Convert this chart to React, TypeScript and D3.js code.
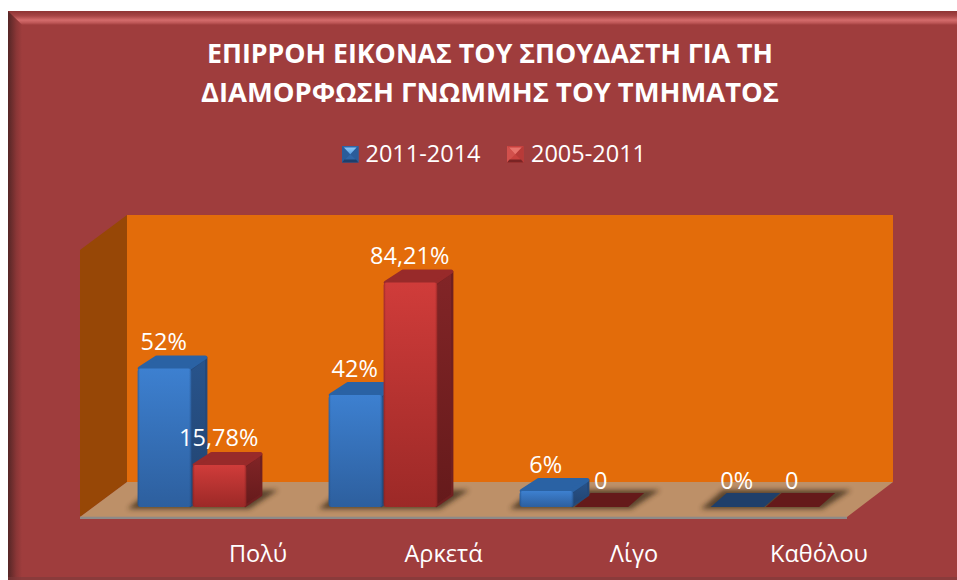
import React from "react";
import * as d3 from "d3";

const categories = ["Πολύ", "Αρκετά", "Λίγο", "Καθόλου"];
const seriesNames = ["2011-2014", "2005-2011"];
const values2011 = [52, 42, 6, 0];
const values2005 = [15.78, 84.21, 0, 0];
const labels2011 = ["52%", "42%", "6%", "0%"];
const labels2005 = ["15,78%", "84,21%", "0", "0"];
const titleLines = ["ΕΠΙΡΡΟΗ ΕΙΚΟΝΑΣ ΤΟΥ ΣΠΟΥΔΑΣΤΗ ΓΙΑ ΤΗ", "ΔΙΑΜΟΡΦΩΣΗ ΓΝΩΜΜΗΣ ΤΟΥ ΤΜΗΜΑΤΟΣ"];

const W = 957, H = 580;
const FONT = "'Open Sans','Noto Sans',sans-serif";
const baseY = 507;
const dx = 17, dy = 13;
const x0 = d3.scaleBand<string>().domain(categories).range([137.7, 137.7 + 4 * 191]).paddingInner(0).paddingOuter(0);
const xGroup = (c: string) => x0(c) as number;
const barW = 53.5;
const barStep = 55;
const y = d3.scaleLinear().domain([0, 100]).range([baseY, 240.5]);
const labelX = d3.scaleOrdinal<string, number>().domain(categories).range([258, 443.5, 634, 819]);

const poly = (pts: number[][]) => d3.line()(pts as [number, number][]) + "Z";

type Pal = { key: string; flatFill: string; top: string; sideB: string };
const pals: Pal[] = [
  { key: "blue", flatFill: "#1f3f6a", top: "#2a62a4", sideB: "#24497a" },
  { key: "red", flatFill: "#651a1a", top: "#982a2a", sideB: "#701f20" },
];

function Bar({ x, v, pal }: { x: number; v: number; pal: Pal }) {
  const top = y(v);
  const r = barW;
  if (v === 0) {
    return (
      <path
        d={poly([[x, baseY], [x + r, baseY], [x + r + dx - 1, baseY - 14], [x + dx - 1, baseY - 14]])}
        fill={pal.flatFill}
      />
    );
  }
  const i = 2;
  return (
    <g>
      <path
        d={poly([[x + r - 1, baseY - 1], [x + r + dx - i, baseY - dy + 1], [x + r + dx - i, top - dy + i], [x + r - 1, top + 1]])}
        fill={`url(#side-${pal.key})`}
        stroke={pal.sideB}
        strokeWidth={i * 1.2}
        strokeLinejoin="round"
      />
      <path
        d={poly([[x + i, top], [x + r - i, top], [x + r + dx - i - 1, top - dy + i], [x + dx + i, top - dy + i]])}
        fill={pal.top}
        stroke={pal.top}
        strokeWidth={i * 2}
        strokeLinejoin="round"
      />
      <rect x={x} y={top} width={r} height={baseY - top} rx={3} fill={`url(#front-${pal.key})`} />
      <rect x={x} y={top} width={r} height={baseY - top} rx={3} fill={`url(#edge-${pal.key})`} />
    </g>
  );
}

function Shadow({ x, w }: { x: number; w: number }) {
  return (
    <path
      d={poly([[x - 10, baseY + 2], [x + w + 3, baseY + 2], [x + w + 32, baseY - 17], [x + 12, baseY - 17]])}
      fill="#352518"
      opacity={0.72}
      filter="url(#blur)"
    />
  );
}

const Label = ({ x, y: yy, t, size = 23.5 }: { x: number; y: number; t: string; size?: number }) => (
  <text x={x} y={yy} textAnchor="middle" fontFamily={FONT} fontSize={size} fill="#ffffff">{t}</text>
);

export default function App() {
  const valueLabel = (v: number) => y(v) - 18.5;
  return (
    <svg width={W} height={H} viewBox={`0 0 ${W} ${H}`} style={{ position: "fixed", left: 0, top: 0, display: "block" }}>
      <defs>
        <linearGradient id="front-blue" x1="0" x2="0" y1="0" y2="1">
          <stop offset="0" stopColor="#3d80d0" />
          <stop offset="1" stopColor="#2d5f9e" />
        </linearGradient>
        <linearGradient id="front-red" x1="0" x2="0" y1="0" y2="1">
          <stop offset="0" stopColor="#d03c3a" />
          <stop offset="1" stopColor="#9c2927" />
        </linearGradient>
        <linearGradient id="side-blue" x1="0" x2="0" y1="0" y2="1">
          <stop offset="0" stopColor="#28548c" />
          <stop offset="1" stopColor="#22436f" />
        </linearGradient>
        <linearGradient id="side-red" x1="0" x2="0" y1="0" y2="1">
          <stop offset="0" stopColor="#822527" />
          <stop offset="1" stopColor="#651a1b" />
        </linearGradient>
        <linearGradient id="edge-blue" x1="0" x2="1" y1="0" y2="0">
          <stop offset="0" stopColor="#1f4a80" stopOpacity={0.6} />
          <stop offset="0.04" stopColor="#1f4a80" stopOpacity={0} />
          <stop offset="0.96" stopColor="#1f4a80" stopOpacity={0} />
          <stop offset="1" stopColor="#1f4a80" stopOpacity={0.6} />
        </linearGradient>
        <linearGradient id="edge-red" x1="0" x2="1" y1="0" y2="0">
          <stop offset="0" stopColor="#7f1f1f" stopOpacity={0.6} />
          <stop offset="0.04" stopColor="#7f1f1f" stopOpacity={0} />
          <stop offset="0.96" stopColor="#7f1f1f" stopOpacity={0} />
          <stop offset="1" stopColor="#7f1f1f" stopOpacity={0.6} />
        </linearGradient>
        <linearGradient id="bevelTop" x1="0" x2="0" y1="0" y2="1">
          <stop offset="0" stopColor="#8e3434" />
          <stop offset="0.35" stopColor="#a84646" />
          <stop offset="0.65" stopColor="#d46c6c" />
          <stop offset="0.85" stopColor="#bd5656" />
          <stop offset="1" stopColor="#9f3d3d" />
        </linearGradient>
        <linearGradient id="bevelLeft" x1="0" x2="1" y1="0" y2="0">
          <stop offset="0" stopColor="#552626" />
          <stop offset="0.6" stopColor="#8a3636" />
          <stop offset="1" stopColor="#9f3d3d" />
        </linearGradient>
        <linearGradient id="iconBlue" x1="0" x2="0" y1="0" y2="1">
          <stop offset="0" stopColor="#8cc6f5" />
          <stop offset="1" stopColor="#5aa0e4" />
        </linearGradient>
        <filter id="blur" x="-20%" y="-60%" width="140%" height="220%">
          <feGaussianBlur stdDeviation="2.6" />
        </filter>
      </defs>

      <rect width={W} height={H} fill="#ffffff" />
      <rect x={8} y={11} width={W - 8} height={H - 11} fill="#9f3d3d" />
      <path d={poly([[8, 11], [W, 11], [W, 25], [22, 25]])} fill="url(#bevelTop)" />
      <path d={poly([[8, 11], [22, 25], [22, H], [8, H]])} fill="url(#bevelLeft)" />
      <rect x={8} y={577} width={W - 8} height={3} fill="#7d3a3a" opacity={0.6} />

      {titleLines.map((t, i) => (
        <text key={t} x={490} y={63 + i * 38.5} textAnchor="middle" fontFamily={FONT} fontWeight={700} fontSize={26.5} fill="#ffffff" textLength={i === 0 ? 566 : 578} lengthAdjust="spacingAndGlyphs">{t}</text>
      ))}

      {seriesNames.map((s, i) => {
        const ix = i === 0 ? 342 : 507;
        const s0 = 16.5;
        const iy = 146;
        const m = s0 / 2;
        const c = i === 0
          ? { body: "#2f66a8", left: "#2a5c9a", right: "#2a5c9a", bottom: "#1d3f6c" }
          : { body: "#c8413e", left: "#d2504c", right: "#b83a38", bottom: "#7a2424" };
        return (
          <g key={s}>
            <rect x={ix} y={iy} width={s0} height={s0} fill={c.body} />
            <path d={poly([[ix, iy], [ix + m, iy + m], [ix, iy + s0]])} fill={c.left} />
            <path d={poly([[ix + s0, iy], [ix + m, iy + m], [ix + s0, iy + s0]])} fill={c.right} />
            <path d={poly([[ix + 2, iy + 1.5], [ix + s0 - 2, iy + 1.5], [ix + m, iy + m]])} fill={i === 0 ? "url(#iconBlue)" : "#e8736c"} />
            <path d={poly([[ix, iy + s0], [ix + 2.5, iy + s0 - 3], [ix + s0 - 2.5, iy + s0 - 3], [ix + s0, iy + s0]])} fill={c.bottom} />
            <text x={i === 0 ? 365.5 : 531} y={162} fontFamily={FONT} fontSize={23.5} fill="#ffffff">{s}</text>
          </g>
        );
      })}

      <rect x={127} y={215} width={766} height={267} fill="#e36c0a" />
      <path d={poly([[127, 215], [80, 250], [80, 517], [127, 482]])} fill="#974706" />
      <path d={poly([[80, 517], [127, 482], [893, 482], [847, 517]])} fill="#bd9068" />
      <rect x={80} y={516.7} width={767} height={2.3} fill="#8e8a88" />

      {categories.map((c) => (
        <Shadow key={c} x={xGroup(c)} w={barW + barStep} />
      ))}

      {categories.map((c, i) => {
        const blue = <Bar key="b" x={xGroup(c)} v={values2011[i]} pal={pals[0]} />;
        const red = <Bar key="r" x={xGroup(c) + barStep} v={values2005[i]} pal={pals[1]} />;
        return <g key={c}>{values2005[i] === 0 ? [red, blue] : [blue, red]}</g>;
      })}

      {categories.map((c, i) => (
        <g key={c}>
          <Label x={xGroup(c) + 26} y={valueLabel(values2011[i])} t={labels2011[i]} />
          <Label x={xGroup(c) + barStep + (values2005[i] === 0 ? 26 : 26)} y={valueLabel(values2005[i])} t={labels2005[i]} />
        </g>
      ))}

      {categories.map((c) => (
        <Label key={c} x={labelX(c)} y={562} t={c} />
      ))}
    </svg>
  );
}
